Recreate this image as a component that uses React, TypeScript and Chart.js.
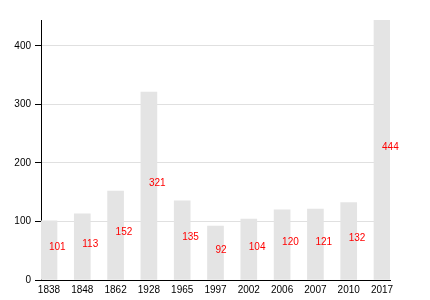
import React, { useEffect, useRef } from "react";
import { Chart, registerables } from "chart.js";

Chart.register(...registerables);

const categories = ["1838", "1848", "1862", "1928", "1965", "1997", "2002", "2006", "2007", "2010", "2017"];
const values = [101, 113, 152, 321, 135, 92, 104, 120, 121, 132, 444];
const yTickValues = [0, 100, 200, 300, 400];
const yMax = 444;

const FONT = '"Liberation Sans", Arial, Helvetica, sans-serif';

const midLabelPlugin = {
  id: "midLabels",
  afterDatasetsDraw(chart: any) {
    const ctx = chart.ctx;
    const meta = chart.getDatasetMeta(0);
    const ys = chart.scales.y;
    ctx.save();
    ctx.fillStyle = "#ff0000";
    ctx.font = `10px ${FONT}`;
    ctx.textAlign = "left";
    ctx.textBaseline = "alphabetic";
    meta.data.forEach((el: any, i: number) => {
      ctx.fillText(String(values[i]), el.x, ys.getPixelForValue(values[i] / 2));
    });
    ctx.restore();
  },
};

export default function App() {
  const ref = useRef<HTMLCanvasElement | null>(null);

  useEffect(() => {
    if (!ref.current) return;
    const chart = new Chart(ref.current, {
      type: "bar",
      data: {
        datasets: [
          {
            data: values.map((v, i) => ({ x: i, y: v })),
            backgroundColor: "#e4e4e4",
            borderWidth: 0,
            barThickness: 16,
          },
        ],
      },
      options: {
        animation: false,
        responsive: false,
        devicePixelRatio: 1,
        layout: { padding: { left: 0, right: 40, top: 20, bottom: 0 } },
        plugins: {
          legend: { display: false },
          tooltip: { enabled: false },
        },
        scales: {
          x: {
            type: "linear",
            offset: false,
            min: -0.24,
            max: 10.24,
            afterBuildTicks: (s: any) => {
              s.ticks = categories.map((_, i) => ({ value: i }));
            },
            afterFit: (s: any) => {
              s.height = 20;
            },
            grid: { display: false, drawTicks: false, offset: false },
            border: { display: true, color: "#000", width: 1 },
            ticks: {
              padding: 4,
              autoSkip: false,
              maxRotation: 0,
              color: "#000",
              font: { family: FONT, size: 10 },
              callback: (v: any) => categories[Math.round(Number(v))] ?? "",
            },
          },
          y: {
            min: 0,
            max: yMax,
            z: 1,
            afterBuildTicks: (s: any) => {
              s.ticks = yTickValues.map((v) => ({ value: v }));
            },
            afterFit: (s: any) => {
              s.width = 41;
            },
            grid: {
              color: "#e0e0e0",
              tickColor: "#000",
              tickLength: 6,
              drawTicks: true,
            },
            border: { display: true, color: "#000", width: 1 },
            ticks: {
              padding: 4,
              color: "#000",
              includeBounds: false,
              font: { family: FONT, size: 10 },
            },
          },
        },
      } as any,
      plugins: [midLabelPlugin],
    });
    return () => chart.destroy();
  }, []);

  return (
    <div style={{ position: "fixed", left: 0, top: 0, width: 430, height: 300, background: "#fff" }}>
      <canvas ref={ref} width={430} height={300} style={{ display: "block", width: 430, height: 300 }} />
    </div>
  );
}
